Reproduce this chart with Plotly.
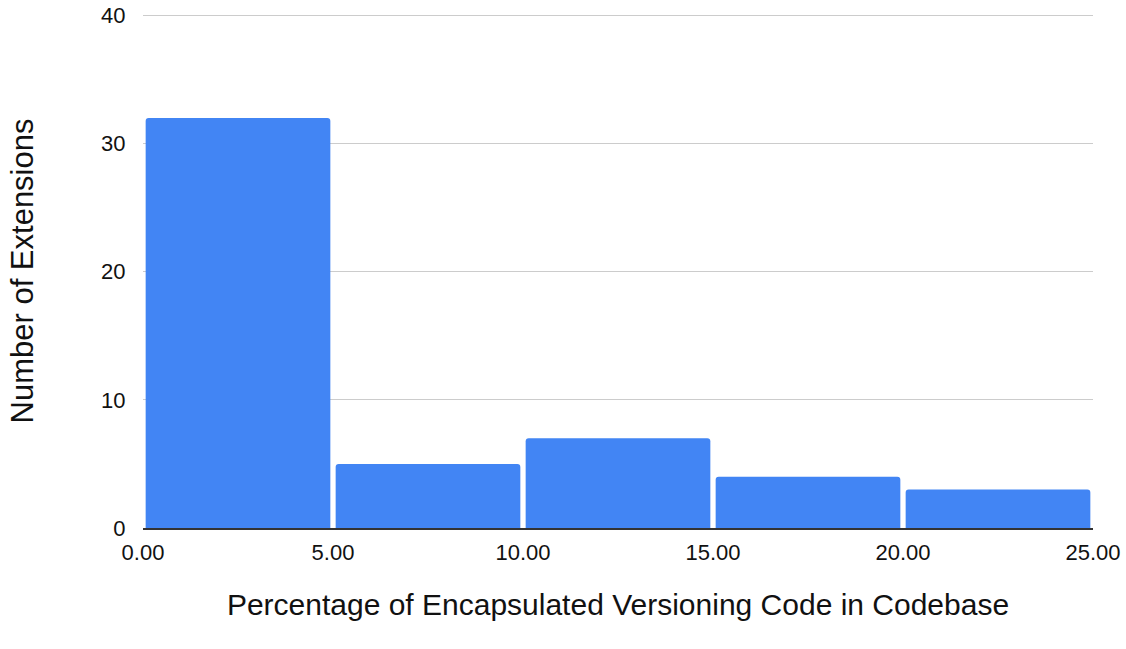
import plotly.graph_objects as go

# Histogram bins (percentage of encapsulated versioning code) and counts
bin_starts = [0, 5, 10, 15, 20]
bin_size = 5
counts = [32, 5, 7, 4, 3]
x_ticks = [0, 5, 10, 15, 20, 25]
x_tick_labels = ["0.00", "5.00", "10.00", "15.00", "20.00", "25.00"]
y_ticks = [0, 10, 20, 30, 40]

centers = [s + bin_size / 2 for s in bin_starts]

fig = go.Figure(
    go.Bar(
        x=centers,
        y=counts,
        width=bin_size * 0.972,
        marker=dict(color="#4285f4", line=dict(width=0), cornerradius=3),
        hoverinfo="x+y",
    )
)

font_family = "Liberation Sans, Arial, sans-serif"

fig.update_layout(
    width=1126,
    height=649,
    margin=dict(l=143, r=33, t=14, b=121),
    paper_bgcolor="white",
    plot_bgcolor="white",
    showlegend=False,
    font=dict(family=font_family, color="#222222", size=22),
)

fig.update_xaxes(
    range=[0, 25],
    tickvals=x_ticks,
    ticktext=x_tick_labels,
    showgrid=False,
    zeroline=False,
    showline=True,
    linecolor="#333333",
    linewidth=2,
    ticks="outside",
    ticklen=4,
    tickcolor="rgba(0,0,0,0)",
    tickfont=dict(size=22, color="#111111"),
    automargin=False,
    title=dict(
        text="Percentage of Encapsulated Versioning Code in Codebase",
        font=dict(size=30, color="#111111"),
        standoff=30,
    ),
)

# a little headroom above 40 so its gridline is kept
fig.update_yaxes(
    range=[0, 40.12],
    tickvals=y_ticks,
    showgrid=True,
    gridcolor="#cccccc",
    gridwidth=1,
    zeroline=False,
    showline=False,
    ticks="outside",
    ticklen=12,
    tickcolor="rgba(0,0,0,0)",
    tickfont=dict(size=22, color="#111111"),
    automargin=False,
    title=dict(
        text="Number of Extensions",
        font=dict(size=31, color="#111111"),
        standoff=58,
    ),
)

fig.write_html("out.html")
